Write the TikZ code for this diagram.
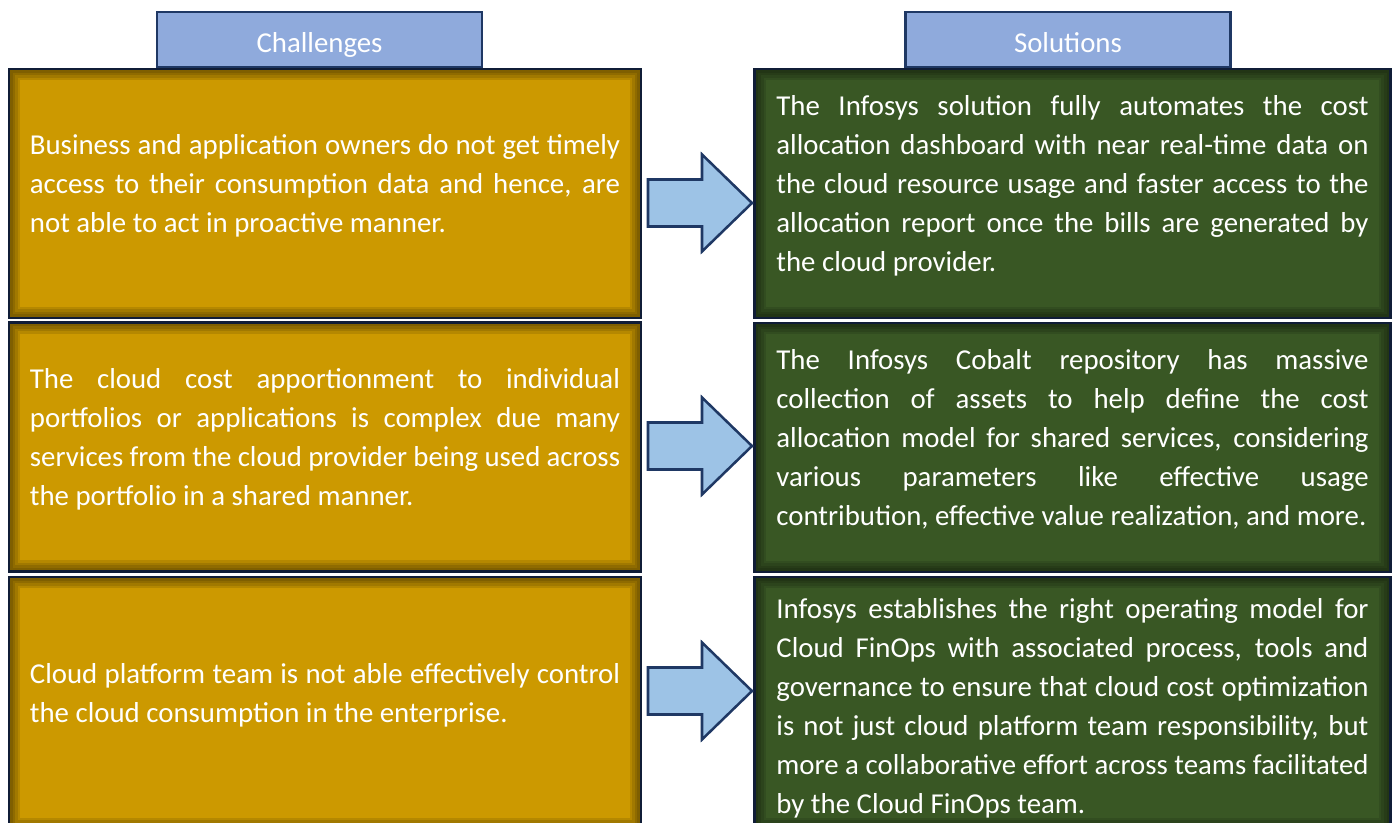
\documentclass[tikz,border=0pt]{standalone}
\usepackage{fontspec}
\setmainfont{Carlito}
\usetikzlibrary{positioning}

\definecolor{headblue}{RGB}{143,170,220}
\definecolor{navy}{RGB}{31,56,100}
\definecolor{gold}{RGB}{204,153,0}
\definecolor{moss}{RGB}{57,87,36}
\definecolor{arrowblue}{RGB}{157,195,230}

\newcommand\boxfont{\fontsize{20.5}{27.7}\selectfont
  \spaceskip=0.226em plus 0.25em minus 0.1em\relax
  \hyphenpenalty=10000\relax}

\tikzset{
  header/.style={draw=navy, line width=1.8pt, fill=headblue, text=white,
    minimum width=8.125cm, minimum height=1.375cm, text height=0.8cm, text depth=0.16cm,
    font=\fontsize{20.5}{24}\selectfont},
  challenge/.style={draw=navy, line width=2pt, fill=gold,
    minimum width=15.8cm, minimum height=6.225cm},
  solution/.style={challenge, fill=moss, minimum width=15.88cm},
  ctext/.style={text=white, text width=14.75cm, inner sep=0pt, align=justify, font=\boxfont},
  stext/.style={ctext, text width=14.8cm},
  bigarrow/.style={draw=navy, line width=1.8pt, fill=arrowblue, line join=miter},
}

\begin{document}
\begin{tikzpicture}[x=0.025cm, y=0.025cm]
        \useasboundingbox (0,0) rectangle (1397,823);

        % Column headers
        \node[header] (cha) at (319.5,783.5) {Challenges};
        \node[header] (sol) at (1068,783.5) {Solutions};

        % Boxes
        \node[challenge] (c1) at (325,629.5) {};
        \node[challenge] (c2) at (325,376) {};
        \node[challenge, minimum height=6.3cm] (c3) at (325,120) {};
        \node[solution] (s1) at (1072.5,629.5) {};
        \node[solution] (s2) at (1072.5,375.5) {};
        \node[solution, minimum height=6.3cm] (s3) at (1072.5,120) {};

        % Inner shadow of the boxes
        \foreach \n in {c1,c2,c3,s1,s2,s3} {
          \foreach \k in {1,...,5} {
            \pgfmathsetmacro\d{\k*0.9}
            \draw[black, opacity=0.11, line width=2*\d pt]
              ([xshift=\d pt, yshift=-\d pt]\n.north west) rectangle
              ([xshift=-\d pt, yshift=\d pt]\n.south east);
          }
        }

        % Challenges
        \node[ctext] (c1t) at ([yshift=0.2cm]c1.center) {Business and application owners do not get timely\linebreak
          access to their consumption data and hence, are\linebreak
          not able to act in proactive manner.};
        \node[ctext] (c2t) at ([yshift=0.2cm]c2.center) {The cloud cost apportionment to individual\linebreak
          portfolios or applications is complex due many\linebreak
          services from the cloud provider being used across\linebreak
          the portfolio in a shared manner.};
        \node[ctext] (c3t) at ([yshift=0.2cm]c3.center) {Cloud platform team is not able effectively control\linebreak
          the cloud consumption in the enterprise.};

        % Solutions
        \node[stext] (s1t) at ([yshift=0.2cm]s1.center) {The Infosys solution fully automates the cost\linebreak
          allocation dashboard with near real-time data on\linebreak
          the cloud resource usage and faster access to the\linebreak
          allocation report once the bills are generated by\linebreak
          the cloud provider.};
        \node[stext] (s2t) at ([yshift=0.2cm]s2.center) {The Infosys Cobalt repository has massive\linebreak
          collection of assets to help define the cost\linebreak
          allocation model for shared services, considering\linebreak
          various parameters like effective usage\linebreak
          contribution, effective value realization, and more.};
        \node[stext] (s3t) at ([yshift=-0.125cm]s3.center) {Infosys establishes the right operating model for\linebreak
          Cloud FinOps with associated process, tools and\linebreak
          governance to ensure that cloud cost optimization\linebreak
          is not just cloud platform team responsibility, but\linebreak
          more a collaborative effort across teams facilitated\linebreak
          by the Cloud FinOps team.};

        % Block arrows
        \foreach \y in {620,377,132} {
          \draw[bigarrow] (648,\y+23.5) -- (702,\y+23.5) -- (702,\y+48.5) -- (752,\y)
            -- (702,\y-48.5) -- (702,\y-23.5) -- (648,\y-23.5) -- cycle;
        }
    \end{tikzpicture}
\end{document}
